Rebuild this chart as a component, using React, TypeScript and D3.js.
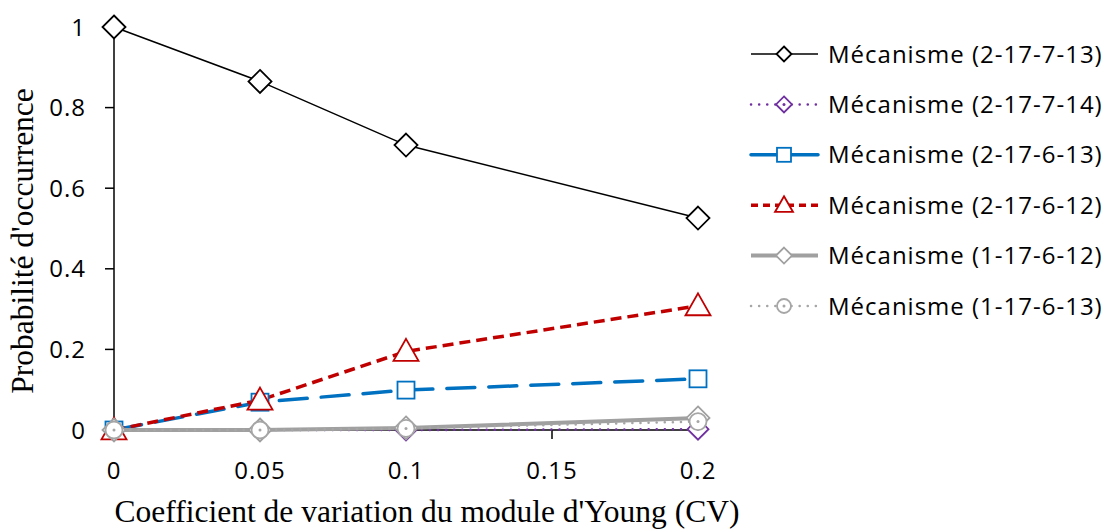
import React from "react";
import * as d3 from "d3";

const xValues = [0, 0.05, 0.1, 0.2];
const seriesNames = [
  "Mécanisme (2-17-7-13)",
  "Mécanisme (2-17-7-14)",
  "Mécanisme (2-17-6-13)",
  "Mécanisme (2-17-6-12)",
  "Mécanisme (1-17-6-12)",
  "Mécanisme (1-17-6-13)",
];
const s271713 = [1, 0.865, 0.707, 0.526];
const s271714 = [0, 0, 0, 0.002];
const s261613 = [0, 0.069, 0.099, 0.127];
const s261612 = [0, 0.074, 0.195, 0.308];
const s161612 = [0, 0, 0.005, 0.03];
const s161613 = [0, 0, 0.004, 0.021];
const xTicks = [0, 0.05, 0.1, 0.15, 0.2];
const yTicks = [0, 0.2, 0.4, 0.6, 0.8, 1];

const styles = [
  { color: "#000000", width: 1.5, dash: "", legDash: "", cap: "butt", marker: "diamond", size: 11.5, legSize: 7.5, dot: false },
  { color: "#7030A0", width: 2.5, dash: "0.1 8", legDash: "0.1 8", cap: "round", marker: "diamond", size: 10.5, legSize: 8, dot: true },
  { color: "#0070C0", width: 3.5, dash: "28 14", legDash: "", cap: "round", marker: "square", size: 8.5, legSize: 7, dot: false },
  { color: "#C00000", width: 3.5, dash: "11 6", legDash: "7 5", cap: "butt", marker: "triangle", size: 12.5, legSize: 9, dot: false },
  { color: "#A0A0A0", width: 4, dash: "", legDash: "", cap: "butt", marker: "diamond", size: 11.5, legSize: 8, dot: false },
  { color: "#A6A6A6", width: 2.5, dash: "0.1 8", legDash: "0.1 8", cap: "round", marker: "circle", size: 8.5, legSize: 7, dot: true },
];
const allSeries = [s271713, s271714, s261613, s261612, s161612, s161613];

function Marker({ type, x, y, size, color, dot }: any) {
  const sw = 1.8;
  let shape;
  if (type === "diamond") {
    shape = <path d={`M${x},${y - size}L${x + size},${y}L${x},${y + size}L${x - size},${y}Z`} fill="white" stroke={color} strokeWidth={sw} />;
  } else if (type === "square") {
    shape = <rect x={x - size} y={y - size} width={size * 2} height={size * 2} fill="white" stroke={color} strokeWidth={sw} />;
  } else if (type === "triangle") {
    shape = <path d={`M${x},${y - size}L${x + size},${y + size * 0.75}L${x - size},${y + size * 0.75}Z`} fill="white" stroke={color} strokeWidth={sw} />;
  } else {
    shape = <circle cx={x} cy={y} r={size} fill="white" stroke={color} strokeWidth={sw} />;
  }
  return (
    <g>
      {shape}
      {dot && <circle cx={x} cy={y} r={1.5} fill={color} />}
    </g>
  );
}

export default function App() {
  const W = 1109, H = 531;
  const x = d3.scaleLinear().domain([0, 0.2]).range([114, 698]);
  const y = d3.scaleLinear().domain([0, 1]).range([430, 27]);
  const line = d3.line<number>().x((_, i) => x(xValues[i])).y((d) => y(d));
  const tickFont = "'Open Sans', Lato, sans-serif";
  const serif = "'Liberation Serif', 'DejaVu Serif', serif";
  const legendY0 = 54, legendStep = 50.4;
  const fs = 24, ls = 1;
  return (
    <svg width={W} height={H} style={{ position: "absolute", left: 0, top: 0, background: "white" }}>
      <line x1={x(0)} x2={x(0)} y1={y(1)} y2={y(0)} stroke="#000" strokeWidth={1.5} />
      <line x1={x(0)} x2={x(0.2)} y1={y(0)} y2={y(0)} stroke="#000" strokeWidth={1.5} />
      {yTicks.map((t) => (
        <g key={"y" + t}>
          <line x1={x(0) - 9} x2={x(0)} y1={y(t)} y2={y(t)} stroke="#000" strokeWidth={1.5} />
          <text x={86} y={y(t)} dy="0.36em" textAnchor="end" fontFamily={tickFont} fontSize={fs} letterSpacing={ls} fill="#000">{d3.format("")(t)}</text>
        </g>
      ))}
      {xTicks.map((t) => (
        <g key={"x" + t}>
          <line x1={x(t)} x2={x(t)} y1={y(0)} y2={y(0) + 9} stroke="#000" strokeWidth={1.5} />
          <text x={x(t)} y={470} dy="0.36em" textAnchor="middle" fontFamily={tickFont} fontSize={fs} letterSpacing={ls} fill="#000">{d3.format("")(t)}</text>
        </g>
      ))}
      {allSeries.map((s, i) => (
        <path key={"l" + i} d={line(s) || ""} fill="none" stroke={styles[i].color} strokeWidth={styles[i].width} strokeDasharray={styles[i].dash} strokeLinecap={styles[i].cap as any} />
      ))}
      {allSeries.map((s, i) => (
        <g key={"m" + i}>
          {s.map((v, j) => (
            <Marker key={j} type={styles[i].marker} x={x(xValues[j])} y={y(v)} size={styles[i].size} color={styles[i].color} dot={styles[i].dot} />
          ))}
        </g>
      ))}
      <text x={427} y={522} textAnchor="middle" fontFamily={serif} fontSize={31.5} fill="#000">Coefficient de variation du module d'Young (CV)</text>
      <text transform={`translate(33,241) rotate(-90)`} textAnchor="middle" fontFamily={serif} fontSize={31.5} fill="#000">Probabilité d'occurrence</text>
      {seriesNames.map((n, i) => {
        const ly = legendY0 + i * legendStep;
        const st = styles[i];
        return (
          <g key={"lg" + i}>
            <line x1={751} x2={818} y1={ly} y2={ly} stroke={st.color} strokeWidth={st.width} strokeDasharray={st.legDash} strokeLinecap={st.cap as any} />
            <Marker type={st.marker} x={784} y={ly} size={st.legSize} color={st.color} dot={st.dot} />
            <text x={828} y={ly} dy="0.36em" fontFamily={tickFont} fontSize={fs} letterSpacing={ls} fill="#000">{n}</text>
          </g>
        );
      })}
    </svg>
  );
}
